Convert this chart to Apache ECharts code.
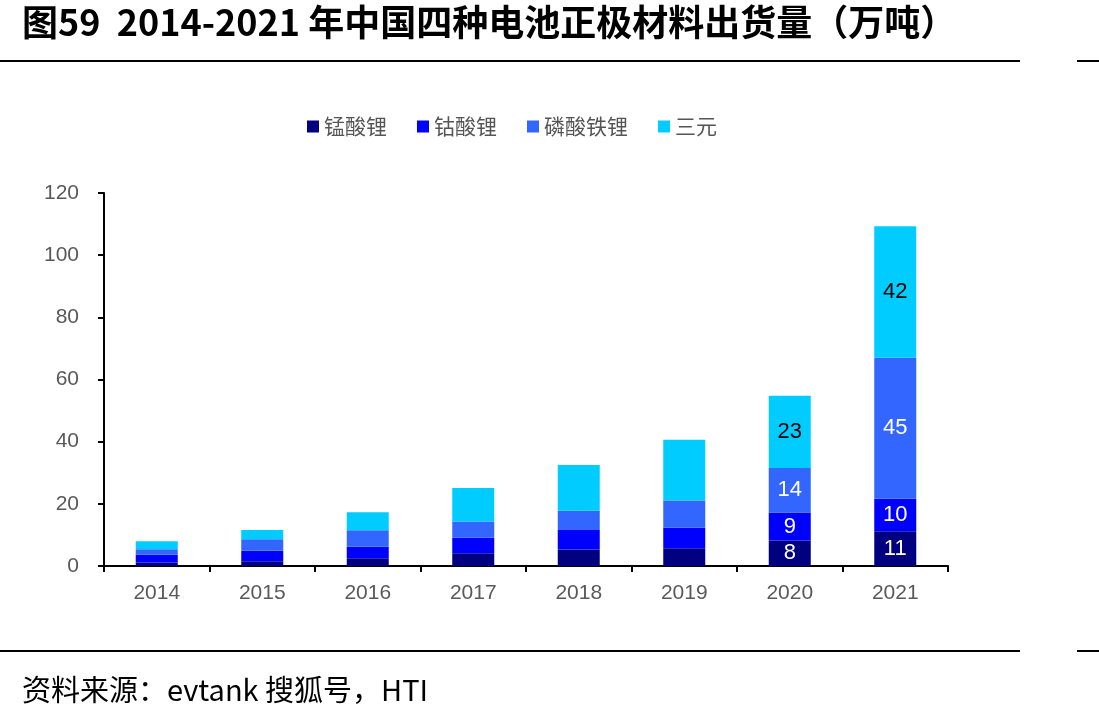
<!DOCTYPE html>
<html>
<head>
<meta charset="utf-8">
<script src="https://cdn.jsdelivr.net/npm/echarts@6/dist/echarts.min.js"></script>
<style>
  html, body { margin: 0; padding: 0; background: #fff; }
  #chart { width: 1099px; height: 726px; }
</style>
</head>
<body>
<div id="chart"></div>
<script>
// 年份
var years = ['2014', '2015', '2016', '2017', '2018', '2019', '2020', '2021'];
// 各类正极材料出货量（万吨）
var lmo = [1.1, 1.5, 2.5, 4.1, 5.3, 5.7, 8.2, 11.2];   // 锰酸锂
var lco = [2.5, 3.4, 3.7, 5.0, 6.3, 6.6, 9.0, 10.4];   // 钴酸锂
var lfp = [1.8, 3.7, 5.3, 5.2, 6.2, 8.8, 14.3, 45.4];  // 磷酸铁锂
var ncm = [2.6, 3.0, 5.8, 10.8, 14.7, 19.5, 23.3, 42.3]; // 三元
var yTicks = [0, 20, 40, 60, 80, 100, 120];
var labelFrom = 6; // 只有2020、2021年标数值

var chart = echarts.init(document.getElementById('chart'));

function withLabels(arr, color) {
    return arr.map(function (v, i) {
        if (i < labelFrom) return v;
        return {
            value: v,
            label: {
                show: true,
                position: 'inside',
                color: color,
                fontSize: 22,
                fontFamily: 'Liberation Sans, Arial, sans-serif',
                formatter: function (p) { return Math.round(p.value); }
            }
        };
    });
}

function barSeries(name, arr, color, labelColor) {
    return {
        name: name,
        type: 'bar',
        stack: 'total',
        barWidth: 42,
        itemStyle: { color: color },
        data: withLabels(arr, labelColor)
    };
}

var option = {
    animation: false,
    textStyle: { fontFamily: 'Liberation Sans, Arial, sans-serif' },
    legend: {
        top: 111,
        left: 302,
        itemWidth: 12,
        itemHeight: 12,
        itemGap: 30,
        icon: 'rect',
        textStyle: { fontSize: 21, color: '#555', fontFamily: 'Noto Sans CJK SC' },
        data: ['锰酸锂', '钴酸锂', '磷酸铁锂', '三元']
    },
    grid: { left: 104, right: 151, top: 193, bottom: 160 },
    xAxis: {
        type: 'category',
        data: years,
        axisLine: { lineStyle: { color: '#000', width: 2 } },
        axisTick: { show: true, length: 6, lineStyle: { color: '#000', width: 2 } },
        axisLabel: { fontSize: 21, color: '#595959', margin: 17 }
    },
    yAxis: {
        type: 'value',
        min: yTicks[0],
        max: yTicks[yTicks.length - 1],
        interval: 20,
        splitLine: { show: false },
        axisLine: { show: true, lineStyle: { color: '#000', width: 2 } },
        axisTick: { show: true, length: 6, lineStyle: { color: '#000', width: 2 } },
        axisLabel: { fontSize: 21, color: '#595959', margin: 25 }
    },
    series: [
        barSeries('锰酸锂', lmo, '#000080', '#fff'),
        barSeries('钴酸锂', lco, '#0000ff', '#fff'),
        barSeries('磷酸铁锂', lfp, '#3366ff', '#fff'),
        barSeries('三元', ncm, '#00ccff', '#000')
    ],
    graphic: [
        {
            type: 'text', left: 22, top: 4,
            style: {
                text: '图59  2014-2021 年中国四种电池正极材料出货量（万吨）',
                font: 'bold 36px "Noto Sans CJK SC"', fill: '#000'
            }
        },
        { type: 'line', shape: { x1: 0, y1: 61, x2: 1020, y2: 61 }, style: { stroke: '#000', lineWidth: 2 } },
        { type: 'line', shape: { x1: 1077, y1: 61, x2: 1099, y2: 61 }, style: { stroke: '#000', lineWidth: 2 } },
        { type: 'line', shape: { x1: 0, y1: 651, x2: 1020, y2: 651 }, style: { stroke: '#000', lineWidth: 2 } },
        { type: 'line', shape: { x1: 1077, y1: 651, x2: 1099, y2: 651 }, style: { stroke: '#000', lineWidth: 2 } },
        {
            type: 'text', left: 22, top: 675,
            style: {
                text: '资料来源：evtank 搜狐号，HTI',
                font: '29px "Noto Sans CJK SC"', fill: '#000'
            }
        }
    ]
};

chart.setOption(option);
</script>
</body>
</html>
